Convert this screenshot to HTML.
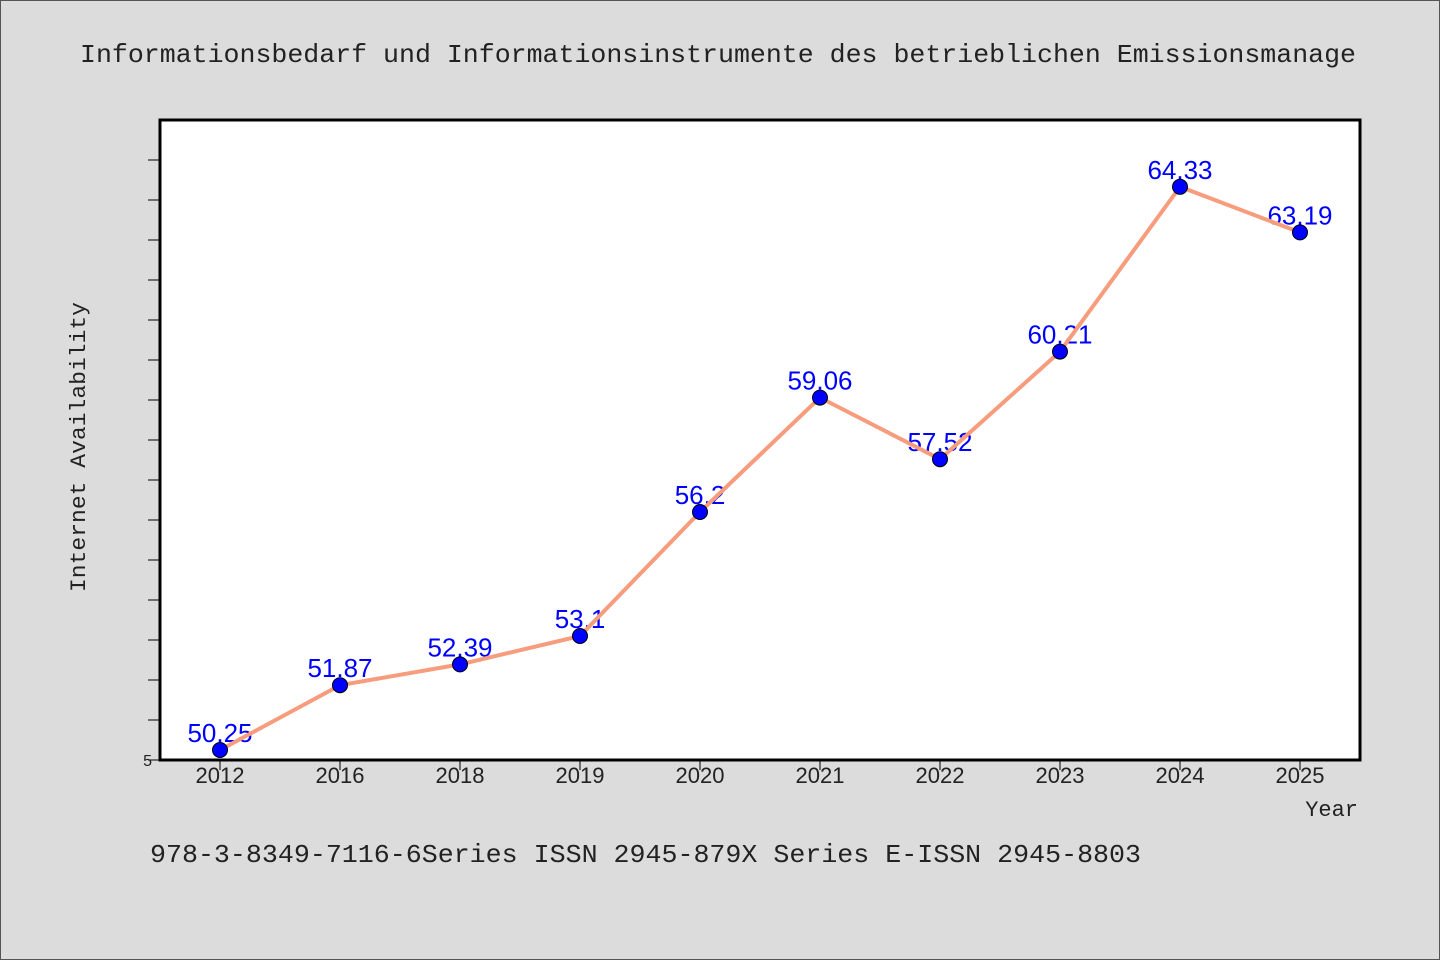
<!DOCTYPE html>
<html><head><meta charset="utf-8"><style>
html,body{margin:0;padding:0;background:#dcdcdc}
svg{display:block}
</style></head><body>
<svg id="chart" width="1440" height="960" xmlns="http://www.w3.org/2000/svg" font-family="'Liberation Mono', 'WenQuanYi Zen Hei', monospace">
<rect x="0.5" y="0.5" width="1439" height="959" fill="#dcdcdc" stroke="#555" stroke-width="1"/>
<text x="80" y="62" font-size="26" fill="#222" textLength="1276" lengthAdjust="spacingAndGlyphs">Informationsbedarf und Informationsinstrumente des betrieblichen Emissionsmanage</text>
<rect x="160" y="120" width="1200" height="640" fill="#fff"/>
<g id="yticks"></g>
<g id="xticks"></g>
<g id="labels"></g>
<g id="series"></g>
<rect x="160" y="120" width="1200" height="640" fill="none" stroke="#000" stroke-width="3"/>
<text transform="translate(85,447) rotate(-90)" text-anchor="middle" font-size="22" fill="#222" textLength="290" lengthAdjust="spacingAndGlyphs">Internet Availability</text>
<text x="1358" y="816" text-anchor="end" font-size="22" fill="#222">Year</text>
<text x="150" y="862" font-size="26" fill="#222" textLength="991" lengthAdjust="spacingAndGlyphs">978-3-8349-7116-6Series ISSN 2945-879X Series E-ISSN 2945-8803</text>
</svg>
<script>
const categories = ["2012","2016","2018","2019","2020","2021","2022","2023","2024","2025"];
const values = [50.25,51.87,52.39,53.1,56.2,59.06,57.52,60.21,64.33,63.19];
const valueLabels = ["50.25","51.87","52.39","53.1","56.2","59.06","57.52","60.21","64.33","63.19"];
const yMin = 50, yMax = 66;
const NS="http://www.w3.org/2000/svg";
const X0=160, W=1200, Y0=120, H=640;
function xPos(i){return X0 + W*(i+0.5)/categories.length;}
function yPos(v){return Y0 + H*(yMax-v)/(yMax-yMin);}
function mk(tag,attrs,parent){const e=document.createElementNS(NS,tag);for(const k in attrs)e.setAttribute(k,attrs[k]);parent.appendChild(e);return e;}
const yt=document.getElementById('yticks'), xt=document.getElementById('xticks'), lb=document.getElementById('labels'), sr=document.getElementById('series');
for(let v=yMin; v<=yMax-1; v++){
  const t=mk('line',{x1:148,x2:160,y1:yPos(v),y2:yPos(v),stroke:'#000','stroke-width':1},yt);
  
  
}
const y5=mk('text',{x:152,y:yPos(yMin)+6,'text-anchor':'end','font-size':16,fill:'#222','font-family':"'Liberation Sans', sans-serif"},yt);
y5.textContent=String(yMin).slice(0,1);


categories.forEach((c,i)=>{
  const t=mk('line',{x1:xPos(i),x2:xPos(i),y1:760,y2:770,stroke:'#000','stroke-width':1},xt);
  
  
  const l=mk('text',{x:xPos(i),y:783,'text-anchor':'middle','font-size':22,fill:'#222','font-family':"'Liberation Sans', sans-serif"},xt);
  l.textContent=c;
  
  
});
values.forEach((v,i)=>{
  const l=mk('text',{x:xPos(i),y:yPos(v)-8,'text-anchor':'middle','font-size':26,fill:'#0000ff','font-family':"'Liberation Sans', sans-serif"},lb);
  l.textContent=valueLabels[i];
  
  
});
const pts=values.map((v,i)=>xPos(i)+','+yPos(v)).join(' ');
const pl=mk('polyline',{points:pts,fill:'none',stroke:'#f79c7c','stroke-width':4,'stroke-linejoin':'round'},sr);


values.forEach((v,i)=>{
  const c=mk('circle',{cx:xPos(i),cy:yPos(v),r:7.5,fill:'#0000ff',stroke:'#000','stroke-width':1},sr);
  
  
});
</script>
</body></html>
